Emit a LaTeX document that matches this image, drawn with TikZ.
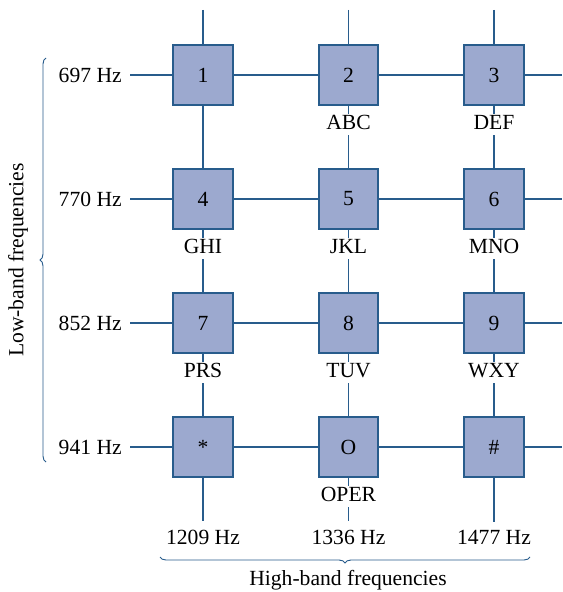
\documentclass[tikz,border=0pt]{standalone}
\usepackage{fontspec}
\setmainfont{Liberation Serif}
\usetikzlibrary{positioning,decorations.pathreplacing}
\definecolor{keyfill}{RGB}{156,169,207}
\definecolor{wireblue}{RGB}{40,92,140}

\begin{document}
\begin{tikzpicture}[x=0.75pt,y=-0.75pt,
txt/.style={font=\fontsize{16.2}{19}\selectfont},
key/.style={txt,draw=wireblue,line width=1.4pt,fill=keyfill,minimum size=44.5pt,inner sep=0pt},
wire/.style={draw=wireblue,line width=1pt},
letters/.style={txt,fill=white,inner sep=1pt,text height=11pt,text depth=3pt},
freq/.style={txt,inner sep=6pt},
brace/.style={draw=wireblue,line width=0.7pt,decorate,decoration={brace,amplitude=4.5pt}}
]
\useasboundingbox (0,0) rectangle (562,592);
% frequency labels
\node[freq,anchor=east] (f697) at (130,75) {697 Hz};
\node[freq,anchor=east] (f770) at (130,199) {770 Hz};
\node[freq,anchor=east] (f852) at (130,323) {852 Hz};
\node[freq,anchor=east] (f941) at (130,447) {941 Hz};
\node[freq] (f1209) at (203,537) {1209 Hz};
\node[freq] (f1336) at (348.5,537) {1336 Hz};
\node[freq] (f1477) at (494,537) {1477 Hz};
% wire ends
\coordinate (r1) at (562,75);
\coordinate (r2) at (562,199);
\coordinate (r3) at (562,323);
\coordinate (r4) at (562,447);
\coordinate (c1) at (203,10);
\coordinate (c2) at (348.5,10);
\coordinate (c3) at (494,10);
% wires
\draw[wire] (f697.east) -- (r1);
\draw[wire] (f770.east) -- (r2);
\draw[wire] (f852.east) -- (r3);
\draw[wire] (f941.east) -- (r4);
\draw[wire] (c1) -- (f1209.north);
\draw[wire] (c2) -- (f1336.north);
\draw[wire] (c3) -- (f1477.north);
% keys
\node[key] (k1) at (203,75) {1};
\node[key] (k2) at (348.5,75) {2};
\node[key] (k3) at (494,75) {3};
\node[key] (k4) at (203,199) {4};
\node[key] (k5) at (348.5,199) {5};
\node[key] (k6) at (494,199) {6};
\node[key] (k7) at (203,323) {7};
\node[key] (k8) at (348.5,323) {8};
\node[key] (k9) at (494,323) {9};
\node[key] (kstar) at (203,447) {*};
\node[key] (k0) at (348.5,447) {O};
\node[key] (khash) at (494,447) {\#};
% letters
\node[letters,below=6pt of k2] (abc) {ABC};
\node[letters,below=6pt of k3] (def) {DEF};
\node[letters,below=6pt of k4] (ghi) {GHI};
\node[letters,below=6pt of k5] (jkl) {JKL};
\node[letters,below=6pt of k6] (mno) {MNO};
\node[letters,below=6pt of k7] (prs) {PRS};
\node[letters,below=6pt of k8] (tuv) {TUV};
\node[letters,below=6pt of k9] (wxy) {WXY};
\node[letters,below=6pt of k0] (oper) {OPER};
% bands
\draw[brace] (46,462) -- (46,58);
\node[txt,rotate=90] (low) at (18,260) {Low-band frequencies};
\draw[brace] (530,557) -- (160,557);
\node[txt] (high) at (348,580) {High-band frequencies};
\end{tikzpicture}
\end{document}
